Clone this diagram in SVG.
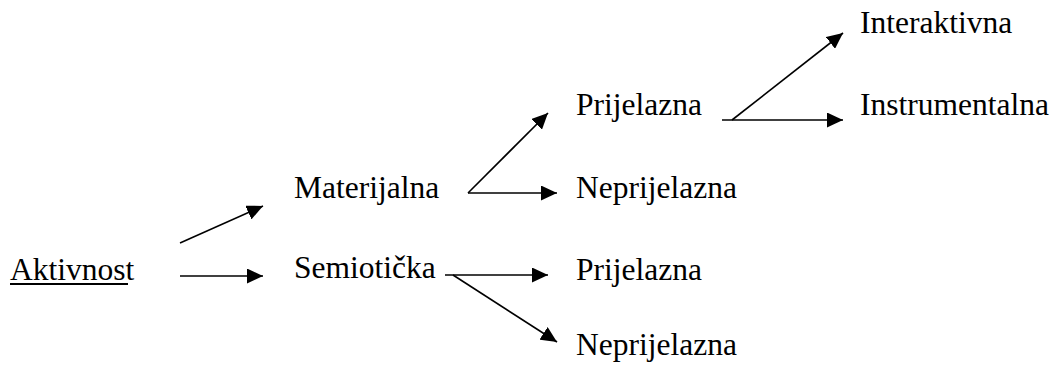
<svg xmlns="http://www.w3.org/2000/svg" width="1055" height="370" viewBox="0 0 1055 370">
<style>
  text { font-family: "Liberation Serif", "Times New Roman", serif; font-size: 31.5px; fill: #000; }
  .c line { stroke: #000; stroke-width: 1.6; fill: none; }
</style>
<defs>
  <marker id="ah" markerUnits="userSpaceOnUse" markerWidth="17" markerHeight="15" refX="16" refY="7.5" orient="auto">
    <path d="M0,0 L16,7.5 L0,15 z" fill="#000"/>
  </marker>
</defs>
<rect width="1055" height="370" fill="#fff"/>
<g id="aktivnost"><text x="10" y="280">Aktivnost</text><line x1="10" y1="284" x2="128" y2="284" stroke="#000" stroke-width="2"/></g>
<g id="materijalna"><text x="294" y="198">Materijalna</text></g>
<g id="semioticka"><text x="294" y="278">Semiotička</text></g>
<g id="prijelazna1"><text x="576" y="115">Prijelazna</text></g>
<g id="neprijelazna1"><text x="576" y="198">Neprijelazna</text></g>
<g id="prijelazna2"><text x="576" y="280">Prijelazna</text></g>
<g id="neprijelazna2"><text x="576" y="355">Neprijelazna</text></g>
<g id="interaktivna"><text x="860" y="33">Interaktivna</text></g>
<g id="instrumentalna"><text x="860" y="115">Instrumentalna</text></g>
<g class="c" id="connectors">
  <line x1="180" y1="243" x2="263" y2="206" marker-end="url(#ah)"/>
  <line x1="180" y1="276" x2="263" y2="276" marker-end="url(#ah)"/>
  <line x1="468" y1="193" x2="548" y2="113" marker-end="url(#ah)"/>
  <line x1="468" y1="193" x2="557" y2="193" marker-end="url(#ah)"/>
  <line x1="445" y1="275" x2="548" y2="275" marker-end="url(#ah)"/>
  <line x1="453" y1="275" x2="557" y2="342" marker-end="url(#ah)"/>
  <line x1="732" y1="120" x2="843" y2="33" marker-end="url(#ah)"/>
  <line x1="722" y1="120" x2="843" y2="120" marker-end="url(#ah)"/>
</g>
</svg>
